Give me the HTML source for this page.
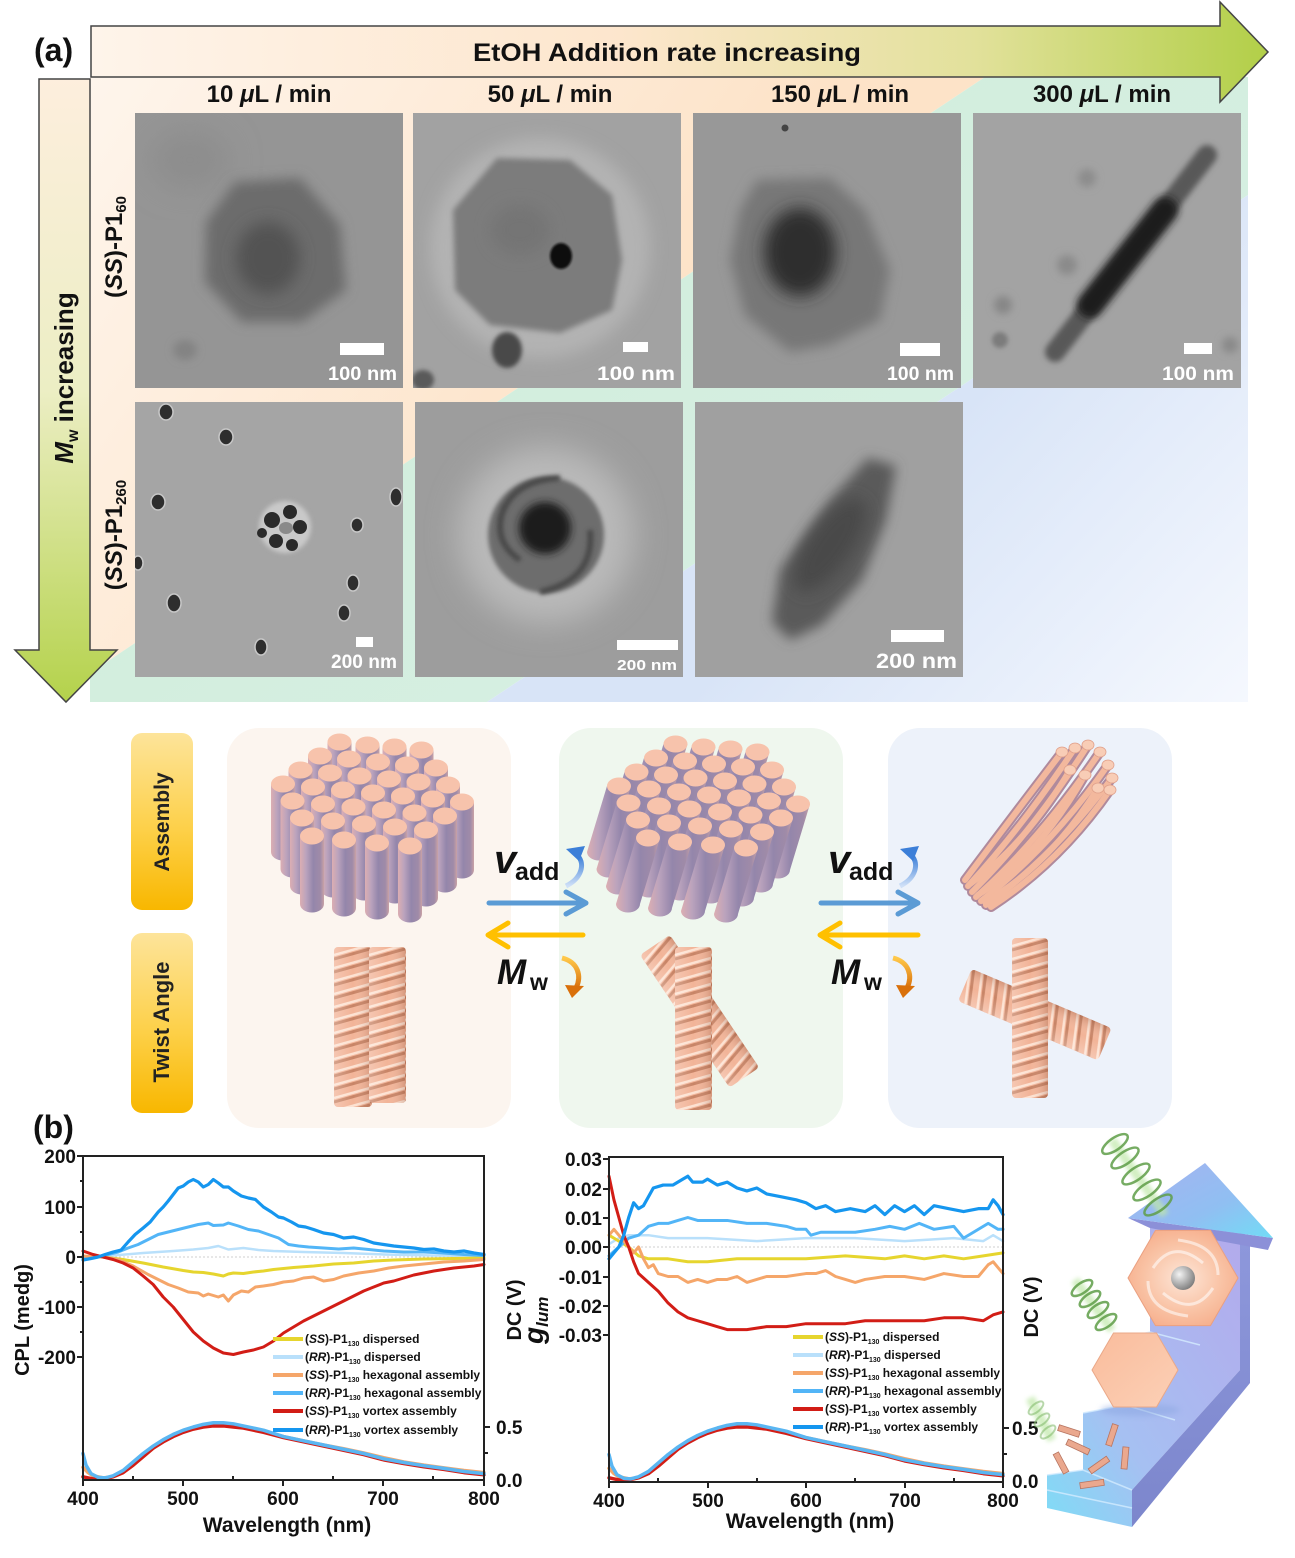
<!DOCTYPE html>
<html><head><meta charset="utf-8">
<style>
html,body{margin:0;padding:0;background:#fff;}
svg{display:block;}
text{font-family:"Liberation Sans",Arial,sans-serif;font-weight:bold;fill:#111;}
</style></head>
<body>
<svg width="1295" height="1558" viewBox="0 0 1295 1558" xmlns="http://www.w3.org/2000/svg">
<defs>
  <linearGradient id="gPeach" gradientUnits="userSpaceOnUse" x1="90" y1="77" x2="600" y2="420">
    <stop offset="0" stop-color="#fef5ec"/><stop offset="1" stop-color="#fde3c8"/>
  </linearGradient>
  <linearGradient id="gGreen" gradientUnits="userSpaceOnUse" x1="700" y1="200" x2="900" y2="500">
    <stop offset="0" stop-color="#d2eedd"/><stop offset="1" stop-color="#d6efe2"/>
  </linearGradient>
  <linearGradient id="gBlue" gradientUnits="userSpaceOnUse" x1="950" y1="420" x2="1248" y2="702">
    <stop offset="0" stop-color="#d8e4f7"/><stop offset="1" stop-color="#f5f8fe"/>
  </linearGradient>
  <linearGradient id="gHArrow" x1="0" y1="0" x2="1" y2="0">
    <stop offset="0" stop-color="#fef4ea"/><stop offset="0.45" stop-color="#fde6cd"/><stop offset="0.75" stop-color="#e2e19b"/><stop offset="1" stop-color="#b2cf48"/>
  </linearGradient>
  <linearGradient id="gVArrow" x1="0" y1="0" x2="0" y2="1">
    <stop offset="0" stop-color="#fdeedd"/><stop offset="0.5" stop-color="#eceec4"/><stop offset="1" stop-color="#b4d24b"/>
  </linearGradient>
  <linearGradient id="gYel" x1="0" y1="0" x2="0" y2="1">
    <stop offset="0" stop-color="#fde49a"/><stop offset="0.55" stop-color="#fdd048"/><stop offset="1" stop-color="#f8b700"/>
  </linearGradient>
  <linearGradient id="gCyl" x1="0" y1="0" x2="1" y2="0">
    <stop offset="0" stop-color="#dcaeb2"/><stop offset="0.25" stop-color="#bba3bd"/><stop offset="0.55" stop-color="#9486ab"/><stop offset="0.85" stop-color="#a08ba8"/><stop offset="1" stop-color="#c9a2a6"/>
  </linearGradient>
  <linearGradient id="gRodShade" x1="0" y1="0" x2="1" y2="0">
    <stop offset="0" stop-color="#ffffff" stop-opacity="0.25"/><stop offset="0.5" stop-color="#ffffff" stop-opacity="0"/><stop offset="1" stop-color="#7a3a20" stop-opacity="0.25"/>
  </linearGradient>
  <linearGradient id="gCurB" x1="0" y1="1" x2="0" y2="0">
    <stop offset="0" stop-color="#cfe0f7"/><stop offset="1" stop-color="#3c7fd8"/>
  </linearGradient>
  <linearGradient id="gCurO" x1="0" y1="0" x2="0" y2="1">
    <stop offset="0" stop-color="#ffc84a"/><stop offset="1" stop-color="#d9700a"/>
  </linearGradient>
  <linearGradient id="gStair" x1="0" y1="1" x2="1" y2="0">
    <stop offset="0" stop-color="#7fdcf6"/><stop offset="0.35" stop-color="#a6c0f2"/><stop offset="1" stop-color="#b3aaec"/>
  </linearGradient>
  <linearGradient id="gStairSide" x1="0" y1="0" x2="0" y2="1">
    <stop offset="0" stop-color="#8e98dc"/><stop offset="1" stop-color="#7c86cc"/>
  </linearGradient>
  <linearGradient id="gArrTop" x1="0" y1="0" x2="1" y2="1">
    <stop offset="0" stop-color="#a6b2f0"/><stop offset="0.6" stop-color="#90bff2"/><stop offset="1" stop-color="#72dcf6"/>
  </linearGradient>
  <radialGradient id="gVortex" cx="0.5" cy="0.5" r="0.6">
    <stop offset="0" stop-color="#fde6d8"/><stop offset="0.6" stop-color="#f9c2a4"/><stop offset="1" stop-color="#f6ab88"/>
  </radialGradient>
  <linearGradient id="gHex2" x1="0" y1="0" x2="1" y2="1">
    <stop offset="0" stop-color="#f9bc9c"/><stop offset="1" stop-color="#fcd0b6"/>
  </linearGradient>
  <radialGradient id="gSphere" cx="0.35" cy="0.35" r="0.7">
    <stop offset="0" stop-color="#f4f4f4"/><stop offset="1" stop-color="#7d7d7d"/>
  </radialGradient>
  <filter id="b1" x="-50%" y="-50%" width="200%" height="200%"><feGaussianBlur stdDeviation="1"/></filter>
  <filter id="b2" x="-50%" y="-50%" width="200%" height="200%"><feGaussianBlur stdDeviation="2"/></filter>
  <filter id="b3" x="-50%" y="-50%" width="200%" height="200%"><feGaussianBlur stdDeviation="3"/></filter>
  <filter id="b4" x="-50%" y="-50%" width="200%" height="200%"><feGaussianBlur stdDeviation="4"/></filter>
  <filter id="b6" x="-50%" y="-50%" width="200%" height="200%"><feGaussianBlur stdDeviation="6"/></filter>
  <filter id="b8" x="-50%" y="-50%" width="200%" height="200%"><feGaussianBlur stdDeviation="8"/></filter>
  <filter id="b15" x="-50%" y="-50%" width="200%" height="200%"><feGaussianBlur stdDeviation="15"/></filter>
  <clipPath id="c1"><rect x="135" y="113" width="268" height="275"/></clipPath>
  <clipPath id="c2"><rect x="413" y="113" width="268" height="275"/></clipPath>
  <clipPath id="c3"><rect x="693" y="113" width="268" height="275"/></clipPath>
  <clipPath id="c4"><rect x="973" y="113" width="268" height="275"/></clipPath>
  <clipPath id="c5"><rect x="135" y="402" width="268" height="275"/></clipPath>
  <clipPath id="c6"><rect x="415" y="402" width="268" height="275"/></clipPath>
  <clipPath id="c7"><rect x="695" y="402" width="268" height="275"/></clipPath>
  <pattern id="tw" width="36" height="13" patternUnits="userSpaceOnUse">
    <rect width="36" height="13" fill="#f2b498"/>
    <path d="M0,12 L36,2 M0,25 L36,15 M0,-1 L36,-11" stroke="#c88466" stroke-width="3"/>
    <path d="M0,8 L36,-2 M0,21 L36,11" stroke="#fde2d2" stroke-width="2.5"/>
  </pattern>
  <g id="cy"><path d="M-12,0 V68 A12,8.5 0 0 0 12,68 V0 Z" fill="url(#gCyl)"/><ellipse rx="12" ry="8.5" fill="#f7c3ac"/></g>
  <g id="cy2"><path d="M-12,0 L-32,66 A12,8.5 0 0 0 -8,66 L12,0 Z" fill="url(#gCyl)"/><ellipse rx="12" ry="8.5" fill="#f7c3ac"/></g>
</defs>

<!-- ===== PANEL (a) background ===== -->
<polygon points="90,77 985,77 90,673" fill="url(#gPeach)"/>
<polygon points="985,77 1248,77 1248,195 487,702 90,702 90,673" fill="url(#gGreen)"/>
<polygon points="1248,195 1248,702 487,702" fill="url(#gBlue)"/>

<!-- horizontal arrow -->
<polygon points="91,26 1220,26 1220,2 1268,52 1220,102 1220,77 91,77" fill="url(#gHArrow)" stroke="#444" stroke-width="1.5"/>
<text x="667" y="61" text-anchor="middle" font-size="25" textLength="388" lengthAdjust="spacingAndGlyphs">EtOH Addition rate increasing</text>
<!-- vertical arrow -->
<polygon points="39,79 90,79 90,650 117,650 66,702 15,650 39,650" fill="url(#gVArrow)" stroke="#444" stroke-width="1.5"/>
<text transform="translate(73,378) rotate(-90)" text-anchor="middle" font-size="26"><tspan font-style="italic">M</tspan><tspan font-size="16" dy="5">w</tspan><tspan dy="-5"> increasing</tspan></text>

<text x="34" y="61" font-size="32">(a)</text>

<!-- column headers -->
<text x="269" y="102" text-anchor="middle" font-size="24">10 <tspan font-style="italic">μ</tspan>L / min</text>
<text x="550" y="102" text-anchor="middle" font-size="24">50 <tspan font-style="italic">μ</tspan>L / min</text>
<text x="840" y="102" text-anchor="middle" font-size="24">150 <tspan font-style="italic">μ</tspan>L / min</text>
<text x="1102" y="102" text-anchor="middle" font-size="24">300 <tspan font-style="italic">μ</tspan>L / min</text>

<!-- row labels -->
<text transform="translate(122,247) rotate(-90)" text-anchor="middle" font-size="24">(<tspan font-style="italic">SS</tspan>)-P1<tspan font-size="15" dy="4">60</tspan></text>
<text transform="translate(122,535) rotate(-90)" text-anchor="middle" font-size="24">(<tspan font-style="italic">SS</tspan>)-P1<tspan font-size="15" dy="4">260</tspan></text>

<!-- ===== TEM images ===== -->
<g clip-path="url(#c1)">
  <rect x="135" y="113" width="268" height="275" fill="#959595"/>
  <ellipse cx="190" cy="160" rx="40" ry="30" fill="#8d8d8d" filter="url(#b15)"/>
  <polygon points="235,182 300,178 340,225 346,290 302,322 242,322 205,282 206,222" fill="#6c6c6c" filter="url(#b6)"/>
  <ellipse cx="268" cy="258" rx="32" ry="36" fill="#525252" filter="url(#b8)"/>
  <ellipse cx="185" cy="350" rx="12" ry="10" fill="#838383" filter="url(#b4)"/>
</g>
<g clip-path="url(#c2)">
  <rect x="413" y="113" width="268" height="275" fill="#a2a2a2"/>
  <ellipse cx="540" cy="248" rx="110" ry="110" fill="#b3b3b3" filter="url(#b8)"/>
  <polygon points="497,158 570,160 612,195 622,260 612,310 560,333 490,325 455,290 453,210" fill="#7b7b7b" filter="url(#b3)"/>
  <ellipse cx="520" cy="230" rx="30" ry="25" fill="#747474" filter="url(#b8)"/>
  <ellipse cx="561" cy="256" rx="11" ry="13" fill="#0e0e0e" filter="url(#b1)"/>
  <ellipse cx="507" cy="350" rx="15" ry="18" fill="#4a4a4a" filter="url(#b2)"/>
  <ellipse cx="423" cy="380" rx="11" ry="10" fill="#5a5a5a" filter="url(#b2)"/>
</g>
<g clip-path="url(#c3)">
  <rect x="693" y="113" width="268" height="275" fill="#989898"/>
  <polygon points="757,180 830,178 865,210 890,270 880,320 830,345 790,352 745,315 730,260 740,210" fill="#777" filter="url(#b6)"/>
  <ellipse cx="800" cy="252" rx="36" ry="44" fill="#2d2d2d" filter="url(#b8)"/>
  <circle cx="785" cy="128" r="3.5" fill="#444"/>
</g>
<g clip-path="url(#c4)">
  <rect x="973" y="113" width="268" height="275" fill="#a3a3a3"/>
  <circle cx="1067" cy="265" r="10" fill="#8a8a8a" filter="url(#b4)"/>
  <circle cx="1003" cy="305" r="9" fill="#868686" filter="url(#b4)"/>
  <circle cx="1087" cy="178" r="9" fill="#8c8c8c" filter="url(#b4)"/>
  <circle cx="1230" cy="345" r="8" fill="#888" filter="url(#b4)"/>
  <circle cx="1000" cy="340" r="8" fill="#7c7c7c" filter="url(#b2)"/>
  <line x1="1055" y1="352" x2="1207" y2="155" stroke="#595959" stroke-width="20" stroke-linecap="round" filter="url(#b3)"/>
  <line x1="1090" y1="305" x2="1165" y2="210" stroke="#1e1e1e" stroke-width="26" stroke-linecap="round" filter="url(#b4)"/>
</g>
<g clip-path="url(#c5)">
  <rect x="135" y="402" width="268" height="275" fill="#a5a5a5"/>
  <g fill="#2e2e2e" stroke="#c8c8c8" stroke-width="1.5">
    <ellipse cx="166" cy="412" rx="7" ry="8"/>
    <ellipse cx="226" cy="437" rx="7" ry="8"/>
    <ellipse cx="158" cy="502" rx="7" ry="8"/>
    <ellipse cx="357" cy="525" rx="6" ry="7"/>
    <ellipse cx="396" cy="497" rx="6" ry="9"/>
    <ellipse cx="353" cy="583" rx="6" ry="8"/>
    <ellipse cx="344" cy="613" rx="6" ry="8"/>
    <ellipse cx="174" cy="603" rx="7" ry="9"/>
    <ellipse cx="261" cy="647" rx="6" ry="8"/>
    <ellipse cx="138" cy="563" rx="5" ry="7"/>
  </g>
  <ellipse cx="285" cy="527" rx="26" ry="26" fill="#c9c9c9" filter="url(#b2)"/>
  <g fill="#2a2a2a">
    <circle cx="272" cy="520" r="8"/><circle cx="290" cy="512" r="7"/><circle cx="300" cy="527" r="7"/>
    <circle cx="276" cy="541" r="7"/><circle cx="292" cy="545" r="6"/><circle cx="262" cy="533" r="5"/>
  </g>
  <ellipse cx="286" cy="528" rx="7" ry="6" fill="#8a8a8a"/>
</g>
<g clip-path="url(#c6)">
  <rect x="415" y="402" width="268" height="275" fill="#9d9d9d"/>
  <circle cx="546" cy="535" r="88" fill="#b9b9b9" filter="url(#b15)"/>
  <circle cx="546" cy="535" r="58" fill="#6d6d6d" filter="url(#b2)"/>
  <path d="M500,520 Q510,480 560,478 M590,530 Q595,580 540,592 M520,560 Q490,540 505,505" stroke="#4a4a4a" stroke-width="6" fill="none" filter="url(#b2)"/>
  <circle cx="545" cy="528" r="26" fill="#1e1e1e" filter="url(#b4)"/>
</g>
<g clip-path="url(#c7)">
  <rect x="695" y="402" width="268" height="275" fill="#a0a0a0"/>
  <polygon points="868,458 896,466 886,520 862,580 822,625 790,640 772,622 780,570 830,500" fill="#5a5a5a" filter="url(#b6)"/>
  <ellipse cx="830" cy="545" rx="22" ry="55" transform="rotate(35 830 545)" fill="#4a4a4a" filter="url(#b8)"/>
</g>

<!-- scale bars -->
<g fill="#fff">
  <rect x="340" y="343" width="44" height="12"/>
  <rect x="623" y="342" width="25" height="10"/>
  <rect x="900" y="343" width="40" height="13"/>
  <rect x="1184" y="343" width="28" height="11"/>
  <rect x="356" y="637" width="17" height="10"/>
  <rect x="617" y="640" width="61" height="10"/>
  <rect x="891" y="630" width="53" height="12"/>
</g>
<g font-size="19" style="font-weight:normal">
  <text x="328" y="380" textLength="69" lengthAdjust="spacingAndGlyphs" style="fill:#fff">100 nm</text>
  <text x="597" y="380" textLength="78" lengthAdjust="spacingAndGlyphs" style="fill:#fff">100 nm</text>
  <text x="887" y="380" textLength="67" lengthAdjust="spacingAndGlyphs" style="fill:#fff">100 nm</text>
  <text x="1162" y="380" textLength="72" lengthAdjust="spacingAndGlyphs" style="fill:#fff">100 nm</text>
  <text x="331" y="668" textLength="66" lengthAdjust="spacingAndGlyphs" style="fill:#fff">200 nm</text>
  <text x="617" y="670" font-size="15" textLength="60" lengthAdjust="spacingAndGlyphs" style="fill:#fff">200 nm</text>
  <text x="876" y="668" font-size="21" textLength="81" lengthAdjust="spacingAndGlyphs" style="fill:#fff">200 nm</text>
</g>

<!-- ===== Schematic ===== -->
<rect x="131" y="733" width="62" height="177" rx="11" fill="url(#gYel)"/>
<rect x="131" y="933" width="62" height="180" rx="11" fill="url(#gYel)"/>
<text transform="translate(169,822) rotate(-90)" text-anchor="middle" font-size="21" style="fill:#222">Assembly</text>
<text transform="translate(169,1022) rotate(-90)" text-anchor="middle" font-size="22" style="fill:#222">Twist Angle</text>

<rect x="227" y="728" width="284" height="400" rx="32" fill="#fcf5ef"/>
<rect x="559" y="728" width="284" height="400" rx="32" fill="#eff7ee"/>
<rect x="888" y="728" width="284" height="400" rx="32" fill="#edf2fa"/>

<!-- bundle 1 -->
<g>
  <use href="#cy" x="339.5" y="742"/><use href="#cy" x="367.5" y="745"/><use href="#cy" x="394.5" y="747"/><use href="#cy" x="421.5" y="750"/>
  <use href="#cy" x="320" y="756"/><use href="#cy" x="349" y="759"/><use href="#cy" x="378" y="762"/><use href="#cy" x="407" y="765"/><use href="#cy" x="436" y="768"/>
  <use href="#cy" x="300.5" y="770"/><use href="#cy" x="330" y="773"/><use href="#cy" x="359.5" y="776"/><use href="#cy" x="389" y="779"/><use href="#cy" x="418.5" y="782"/><use href="#cy" x="448" y="785"/>
  <use href="#cy" x="283" y="784"/><use href="#cy" x="313" y="787"/><use href="#cy" x="343" y="790"/><use href="#cy" x="373" y="793"/><use href="#cy" x="403" y="796"/><use href="#cy" x="433" y="799"/><use href="#cy" x="462" y="802"/>
  <use href="#cy" x="292.5" y="801"/><use href="#cy" x="323" y="804"/><use href="#cy" x="353.5" y="807"/><use href="#cy" x="384" y="810"/><use href="#cy" x="414.5" y="813"/><use href="#cy" x="445" y="816"/>
  <use href="#cy" x="302" y="818"/><use href="#cy" x="333" y="821"/><use href="#cy" x="364" y="824"/><use href="#cy" x="395" y="827"/><use href="#cy" x="426" y="830"/>
  <use href="#cy" x="312" y="836"/><use href="#cy" x="344" y="840"/><use href="#cy" x="377" y="843"/><use href="#cy" x="410" y="846"/>
</g>
<!-- bundle 2 (tilted) -->
<g transform="translate(336,2)">
  <use href="#cy2" x="339.5" y="742"/><use href="#cy2" x="367.5" y="745"/><use href="#cy2" x="394.5" y="747"/><use href="#cy2" x="421.5" y="750"/>
  <use href="#cy2" x="320" y="756"/><use href="#cy2" x="349" y="759"/><use href="#cy2" x="378" y="762"/><use href="#cy2" x="407" y="765"/><use href="#cy2" x="436" y="768"/>
  <use href="#cy2" x="300.5" y="770"/><use href="#cy2" x="330" y="773"/><use href="#cy2" x="359.5" y="776"/><use href="#cy2" x="389" y="779"/><use href="#cy2" x="418.5" y="782"/><use href="#cy2" x="448" y="785"/>
  <use href="#cy2" x="283" y="784"/><use href="#cy2" x="313" y="787"/><use href="#cy2" x="343" y="790"/><use href="#cy2" x="373" y="793"/><use href="#cy2" x="403" y="796"/><use href="#cy2" x="433" y="799"/><use href="#cy2" x="462" y="802"/>
  <use href="#cy2" x="292.5" y="801"/><use href="#cy2" x="323" y="804"/><use href="#cy2" x="353.5" y="807"/><use href="#cy2" x="384" y="810"/><use href="#cy2" x="414.5" y="813"/><use href="#cy2" x="445" y="816"/>
  <use href="#cy2" x="302" y="818"/><use href="#cy2" x="333" y="821"/><use href="#cy2" x="364" y="824"/><use href="#cy2" x="395" y="827"/><use href="#cy2" x="426" y="830"/>
  <use href="#cy2" x="312" y="836"/><use href="#cy2" x="344" y="840"/><use href="#cy2" x="377" y="843"/><use href="#cy2" x="410" y="846"/>
</g>
<!-- bundle 3 (twisted) -->
<g fill="none" stroke-linecap="round">
  <g stroke="#b08a9c" stroke-width="10">
    <path d="M965,880 Q1010,820 1062,752"/><path d="M968,886 Q1020,830 1075,748"/><path d="M972,892 Q1030,835 1088,745"/>
    <path d="M976,897 Q1040,840 1100,752"/><path d="M981,901 Q1050,848 1108,765"/><path d="M986,905 Q1055,855 1112,778"/>
    <path d="M991,907 Q1060,862 1110,790"/><path d="M970,884 Q1025,845 1070,770"/><path d="M978,895 Q1040,855 1085,775"/><path d="M985,902 Q1050,865 1098,788"/>
  </g>
  <g stroke="#f3b89d" stroke-width="6">
    <path d="M965,880 Q1010,820 1062,752"/><path d="M968,886 Q1020,830 1075,748"/><path d="M972,892 Q1030,835 1088,745"/>
    <path d="M976,897 Q1040,840 1100,752"/><path d="M981,901 Q1050,848 1108,765"/><path d="M986,905 Q1055,855 1112,778"/>
    <path d="M991,907 Q1060,862 1110,790"/><path d="M970,884 Q1025,845 1070,770"/><path d="M978,895 Q1040,855 1085,775"/><path d="M985,902 Q1050,865 1098,788"/>
  </g>
</g>
<g fill="#f8cdb6" stroke="#e0a08a" stroke-width="0.8">
  <ellipse cx="1062" cy="752" rx="6" ry="5"/><ellipse cx="1075" cy="748" rx="6" ry="5"/><ellipse cx="1088" cy="745" rx="6" ry="5"/>
  <ellipse cx="1100" cy="752" rx="6" ry="5"/><ellipse cx="1108" cy="765" rx="6" ry="5"/><ellipse cx="1112" cy="778" rx="6" ry="5"/>
  <ellipse cx="1110" cy="790" rx="6" ry="5"/><ellipse cx="1070" cy="770" rx="6" ry="5"/><ellipse cx="1085" cy="775" rx="6" ry="5"/><ellipse cx="1098" cy="788" rx="6" ry="5"/>
</g>

<!-- twisted rods -->
<g transform="translate(334,947)"><rect width="38" height="160" rx="4" fill="url(#tw)"/><rect width="38" height="160" rx="4" fill="url(#gRodShade)"/></g>
<g transform="translate(369,947)"><rect width="37" height="156" rx="4" fill="url(#tw)"/><rect width="37" height="156" rx="4" fill="url(#gRodShade)"/></g>
<g transform="translate(640,955) rotate(-34)"><rect width="36" height="160" rx="4" fill="url(#tw)"/><rect width="36" height="160" rx="4" fill="url(#gRodShade)"/></g>
<g transform="translate(675,947)"><rect width="37" height="163" rx="4" fill="url(#tw)"/><rect width="37" height="163" rx="4" fill="url(#gRodShade)"/></g>
<g transform="translate(958,1001) rotate(-67)"><rect width="35" height="152" rx="4" fill="url(#tw)"/><rect width="35" height="152" rx="4" fill="url(#gRodShade)"/></g>
<g transform="translate(1012,938)"><rect width="36" height="160" rx="4" fill="url(#tw)"/><rect width="36" height="160" rx="4" fill="url(#gRodShade)"/></g>

<!-- process arrows -->
<g stroke-linecap="round" stroke-linejoin="round" fill="none" stroke-width="5">
  <line x1="489" y1="903" x2="583" y2="903" stroke="#5b9bd5"/>
  <polyline points="566,892 586,903 566,914" stroke="#5b9bd5"/>
  <line x1="490" y1="935" x2="583" y2="935" stroke="#ffc000"/>
  <polyline points="508,923 488,935 508,947" stroke="#ffc000"/>
  <line x1="821" y1="903" x2="916" y2="903" stroke="#5b9bd5"/>
  <polyline points="898,892 918,903 898,914" stroke="#5b9bd5"/>
  <line x1="822" y1="935" x2="918" y2="935" stroke="#ffc000"/>
  <polyline points="840,923 820,935 840,947" stroke="#ffc000"/>
</g>
<!-- labels v_add, M_w -->
<text x="494" y="873" font-size="40" font-style="italic">v</text><text x="515" y="880" font-size="25">add</text>
<text x="497" y="984" font-size="35" font-style="italic">M</text><text x="530" y="990" font-size="23">w</text>
<text x="828" y="873" font-size="40" font-style="italic">v</text><text x="849" y="880" font-size="25">add</text>
<text x="831" y="984" font-size="35" font-style="italic">M</text><text x="864" y="990" font-size="23">w</text>
<!-- curved arrows -->
<path d="M566,886 C582,878 585,864 578,856" stroke="url(#gCurB)" stroke-width="5" fill="none"/>
<polygon points="566,849 585,846 579,861" fill="#3c7fd8"/>
<path d="M562,958 C578,962 582,976 576,988" stroke="url(#gCurO)" stroke-width="5" fill="none"/>
<polygon points="565,985 584,986 572,998" fill="#d9700a"/>
<path d="M900,886 C916,878 919,864 912,856" stroke="url(#gCurB)" stroke-width="5" fill="none"/>
<polygon points="900,849 919,846 913,861" fill="#3c7fd8"/>
<path d="M893,958 C909,962 913,976 907,988" stroke="url(#gCurO)" stroke-width="5" fill="none"/>
<polygon points="896,985 915,986 903,998" fill="#d9700a"/>

<!-- ===== (b) charts ===== -->
<text x="33" y="1138" font-size="32">(b)</text>

<!-- Chart 1 -->
<line x1="83" y1="1257" x2="484" y2="1257" stroke="#cfcfcf" stroke-width="1" stroke-dasharray="2,2"/>
<g fill="none" stroke-linejoin="round" stroke-linecap="round">
  <g transform="translate(83,1257) scale(1.0025,-0.5)">
    <polyline vector-effect="non-scaling-stroke" stroke="#b9e0fb" stroke-width="2.5" points="0,0 30,3 60,8 90,12 110,15 125,18 135,22 145,15 160,18 175,14 190,12 220,10 260,8 300,5 350,3 400,2"/>
    <polyline vector-effect="non-scaling-stroke" stroke="#e6d52e" stroke-width="3" points="0,0 20,0 40,-5 60,-12 80,-20 100,-27 110,-30 120,-31 130,-34 140,-38 145,-34 150,-32 160,-33 170,-30 180,-28 190,-25 210,-21 230,-18 250,-14 270,-12 290,-8 310,-6 340,-4 370,-3 400,-2"/>
    <polyline vector-effect="non-scaling-stroke" stroke="#52b5f7" stroke-width="3" points="0,-3 15,0 25,5 35,10 45,18 55,25 65,35 75,45 85,50 95,55 105,60 115,65 125,68 130,63 140,64 145,68 155,62 165,55 175,52 185,45 195,38 205,25 215,22 225,20 240,18 255,16 270,18 285,15 300,12 320,10 340,10 360,8 380,5 400,3"/>
    <polyline vector-effect="non-scaling-stroke" stroke="#f5a66a" stroke-width="3" points="0,2 20,0 35,-5 50,-18 65,-35 75,-45 85,-55 95,-62 105,-70 115,-72 120,-78 125,-74 135,-80 140,-76 145,-88 150,-76 158,-68 165,-70 172,-60 180,-58 190,-55 200,-50 210,-48 220,-42 230,-40 240,-48 250,-45 260,-38 275,-32 290,-28 305,-22 320,-18 340,-14 360,-10 380,-8 400,-5"/>
    <polyline vector-effect="non-scaling-stroke" stroke="#d21d16" stroke-width="3" points="0,12 10,5 20,0 30,-5 40,-12 50,-22 60,-38 70,-55 80,-80 90,-100 100,-125 110,-150 120,-168 130,-182 140,-192 150,-195 160,-190 170,-186 180,-180 190,-168 200,-152 210,-140 220,-128 230,-118 240,-108 250,-98 260,-88 270,-78 280,-68 290,-60 300,-52 310,-48 320,-42 330,-36 340,-32 350,-28 360,-25 370,-22 380,-20 390,-18 400,-15"/>
    <polyline vector-effect="non-scaling-stroke" stroke="#1596ef" stroke-width="3.2" points="0,-6 8,-3 15,0 22,5 30,10 38,14 45,30 52,45 60,58 67,70 75,90 80,100 85,112 90,125 95,138 100,142 105,150 110,155 115,150 120,140 125,145 130,155 135,148 140,140 145,140 150,132 158,122 165,118 172,115 180,100 188,90 195,80 200,78 208,70 215,62 222,60 230,55 240,48 250,45 260,38 270,40 280,35 290,28 300,25 310,22 320,20 330,18 340,15 350,16 360,12 370,10 380,12 390,8 400,5"/>
  </g>
  <g transform="translate(83,1480) scale(1.0025,-106)">
    <polyline vector-effect="non-scaling-stroke" stroke="#f5a66a" stroke-width="3.5" points="0,0.12 5,0.07 10,0.04 20,0.02 30,0.03 40,0.07 50,0.14 60,0.22 70,0.3 80,0.37 90,0.42 100,0.46 110,0.49 120,0.51 130,0.52 140,0.52 150,0.51 160,0.5 180,0.46 200,0.41 220,0.37 240,0.33 260,0.295 280,0.255 300,0.21 320,0.17 340,0.14 360,0.115 380,0.09 400,0.07"/>
    <polyline vector-effect="non-scaling-stroke" stroke="#d21d16" stroke-width="3.5" points="0,0.03 10,0.01 20,0.01 30,0.03 40,0.07 50,0.14 60,0.22 70,0.3 80,0.36 90,0.41 100,0.45 110,0.48 120,0.5 130,0.51 140,0.51 150,0.5 160,0.49 180,0.45 200,0.4 220,0.36 240,0.32 260,0.28 280,0.24 300,0.19 320,0.155 340,0.125 360,0.1 380,0.07 400,0.05"/>
    <polyline vector-effect="non-scaling-stroke" stroke="#5ab6f2" stroke-width="3.5" points="0,0.25 3,0.14 8,0.06 15,0.025 22,0.02 30,0.04 40,0.09 50,0.17 60,0.25 70,0.32 80,0.38 90,0.43 100,0.47 110,0.5 120,0.525 130,0.54 140,0.54 150,0.53 160,0.51 180,0.47 200,0.41 220,0.37 240,0.33 260,0.29 280,0.25 300,0.2 320,0.165 340,0.135 360,0.11 380,0.08 400,0.06"/>
  </g>
</g>
<rect x="83" y="1156" width="401" height="324" fill="none" stroke="#222" stroke-width="2"/>
<g stroke="#222" stroke-width="2">
  <line x1="77" y1="1156" x2="83" y2="1156"/><line x1="77" y1="1207" x2="83" y2="1207"/><line x1="77" y1="1257" x2="83" y2="1257"/><line x1="77" y1="1307" x2="83" y2="1307"/><line x1="77" y1="1357" x2="83" y2="1357"/>
  <line x1="83" y1="1480" x2="83" y2="1486"/><line x1="183" y1="1480" x2="183" y2="1486"/><line x1="283" y1="1480" x2="283" y2="1486"/><line x1="383" y1="1480" x2="383" y2="1486"/><line x1="484" y1="1480" x2="484" y2="1486"/>
  <line x1="133" y1="1480" x2="133" y2="1476"/><line x1="233" y1="1480" x2="233" y2="1476"/><line x1="333" y1="1480" x2="333" y2="1476"/><line x1="433" y1="1480" x2="433" y2="1476"/>
  <line x1="484" y1="1427" x2="490" y2="1427"/><line x1="484" y1="1453" x2="488" y2="1453"/>
  <line x1="80" y1="1181" x2="83" y2="1181"/><line x1="80" y1="1232" x2="83" y2="1232"/><line x1="80" y1="1282" x2="83" y2="1282"/><line x1="80" y1="1332" x2="83" y2="1332"/>
</g>
<g font-size="19" text-anchor="end">
  <text x="76" y="1163">200</text><text x="76" y="1214">100</text><text x="76" y="1264">0</text><text x="76" y="1314">-100</text><text x="76" y="1364">-200</text>
</g>
<g font-size="19" text-anchor="middle">
  <text x="83" y="1505">400</text><text x="183" y="1505">500</text><text x="283" y="1505">600</text><text x="383" y="1505">700</text><text x="484" y="1505">800</text>
</g>
<g font-size="19"><text x="496" y="1434">0.5</text><text x="496" y="1487">0.0</text></g>
<text x="287" y="1532" text-anchor="middle" font-size="21">Wavelength (nm)</text>
<text transform="translate(29,1320) rotate(-90)" text-anchor="middle" font-size="20">CPL (medg)</text>
<text transform="translate(521,1310) rotate(-90)" text-anchor="middle" font-size="20">DC (V)</text>

<!-- legend 1 -->
<g stroke-width="4">
  <line x1="273" y1="1339" x2="303" y2="1339" stroke="#e6d52e"/>
  <line x1="273" y1="1357" x2="303" y2="1357" stroke="#b9e0fb"/>
  <line x1="273" y1="1375" x2="303" y2="1375" stroke="#f5a66a"/>
  <line x1="273" y1="1393" x2="303" y2="1393" stroke="#52b5f7"/>
  <line x1="273" y1="1411" x2="303" y2="1411" stroke="#d21d16"/>
  <line x1="273" y1="1430" x2="303" y2="1430" stroke="#1596ef"/>
</g>
<g font-size="12">
  <text x="305" y="1343">(<tspan font-style="italic">SS</tspan>)-P1<tspan font-size="7" dy="3">130</tspan><tspan dy="-3"> dispersed</tspan></text>
  <text x="305" y="1361">(<tspan font-style="italic">RR</tspan>)-P1<tspan font-size="7" dy="3">130</tspan><tspan dy="-3"> dispersed</tspan></text>
  <text x="305" y="1379">(<tspan font-style="italic">SS</tspan>)-P1<tspan font-size="7" dy="3">130</tspan><tspan dy="-3"> hexagonal assembly</tspan></text>
  <text x="305" y="1397">(<tspan font-style="italic">RR</tspan>)-P1<tspan font-size="7" dy="3">130</tspan><tspan dy="-3"> hexagonal assembly</tspan></text>
  <text x="305" y="1415">(<tspan font-style="italic">SS</tspan>)-P1<tspan font-size="7" dy="3">130</tspan><tspan dy="-3"> vortex assembly</tspan></text>
  <text x="305" y="1434">(<tspan font-style="italic">RR</tspan>)-P1<tspan font-size="7" dy="3">130</tspan><tspan dy="-3"> vortex assembly</tspan></text>
</g>

<!-- Chart 2 -->
<line x1="609" y1="1247" x2="1003" y2="1247" stroke="#cfcfcf" stroke-width="1" stroke-dasharray="2,2"/>
<g fill="none" stroke-linejoin="round" stroke-linecap="round">
  <g transform="translate(609,1247) scale(0.985,-2950)">
    <polyline vector-effect="non-scaling-stroke" stroke="#b9e0fb" stroke-width="2.5" points="0,0.001 10,0.003 20,0.004 30,0.004 40,0.004 60,0.003 100,0.003 150,0.002 200,0.003 250,0.003 300,0.002 350,0.003 380,0.002 390,0.004 400,0.002"/>
    <polyline vector-effect="non-scaling-stroke" stroke="#e6d52e" stroke-width="3" points="0,0.004 10,0.002 20,0 30,-0.003 40,-0.004 60,-0.004 80,-0.005 100,-0.005 130,-0.004 160,-0.004 200,-0.004 240,-0.003 280,-0.004 300,-0.003 320,-0.004 340,-0.003 360,-0.004 380,-0.003 400,-0.002"/>
    <polyline vector-effect="non-scaling-stroke" stroke="#52b5f7" stroke-width="3" points="0,-0.003 10,0 20,0.003 30,0.004 40,0.007 50,0.008 60,0.008 70,0.009 80,0.01 90,0.009 100,0.009 120,0.009 140,0.008 160,0.008 180,0.007 190,0.006 200,0.006 205,0.004 215,0.005 230,0.005 250,0.005 270,0.006 285,0.007 300,0.006 315,0.008 330,0.006 350,0.007 360,0.003 370,0.005 385,0.008 395,0.006 400,0.006"/>
    <polyline vector-effect="non-scaling-stroke" stroke="#f5a66a" stroke-width="3" points="0,0.004 5,0.006 10,0.004 15,0.002 20,0 25,-0.002 30,0 35,-0.004 40,-0.007 45,-0.006 50,-0.009 60,-0.01 70,-0.01 80,-0.012 90,-0.011 100,-0.012 110,-0.011 120,-0.011 130,-0.01 140,-0.012 150,-0.011 160,-0.01 180,-0.01 200,-0.009 210,-0.009 220,-0.008 230,-0.01 240,-0.011 250,-0.012 260,-0.011 280,-0.01 300,-0.01 320,-0.011 340,-0.009 360,-0.01 375,-0.01 385,-0.006 390,-0.005 395,-0.007 400,-0.009"/>
    <polyline vector-effect="non-scaling-stroke" stroke="#d21d16" stroke-width="3" points="0,0.024 5,0.016 10,0.01 15,0.004 20,0 25,-0.005 30,-0.009 40,-0.012 50,-0.015 60,-0.019 70,-0.022 80,-0.024 90,-0.025 100,-0.026 110,-0.027 120,-0.028 140,-0.028 160,-0.027 180,-0.027 200,-0.026 220,-0.026 240,-0.026 260,-0.025 280,-0.025 300,-0.025 320,-0.025 340,-0.024 360,-0.024 380,-0.025 390,-0.023 400,-0.022"/>
    <polyline vector-effect="non-scaling-stroke" stroke="#1596ef" stroke-width="3.2" points="0,-0.004 5,-0.002 10,0 15,0.004 20,0.01 25,0.015 30,0.013 35,0.014 40,0.017 45,0.02 55,0.021 65,0.021 75,0.023 80,0.024 85,0.022 95,0.022 100,0.023 110,0.021 120,0.022 130,0.02 140,0.019 150,0.02 160,0.018 175,0.017 190,0.016 200,0.015 210,0.013 220,0.014 230,0.012 245,0.013 260,0.012 270,0.014 280,0.011 290,0.014 300,0.012 310,0.014 320,0.011 330,0.014 345,0.013 360,0.012 375,0.013 385,0.013 390,0.016 395,0.014 400,0.011"/>
  </g>
  <g transform="translate(609,1481) scale(0.985,-106)">
    <polyline vector-effect="non-scaling-stroke" stroke="#f5a66a" stroke-width="3.5" points="0,0.12 5,0.07 10,0.04 20,0.02 30,0.03 40,0.07 50,0.14 60,0.22 70,0.3 80,0.37 90,0.42 100,0.46 110,0.49 120,0.51 130,0.52 140,0.52 150,0.51 160,0.5 180,0.46 200,0.41 220,0.37 240,0.33 260,0.295 280,0.255 300,0.21 320,0.17 340,0.14 360,0.115 380,0.09 400,0.07"/>
    <polyline vector-effect="non-scaling-stroke" stroke="#d21d16" stroke-width="3.5" points="0,0.03 10,0.01 20,0.01 30,0.03 40,0.07 50,0.14 60,0.22 70,0.3 80,0.36 90,0.41 100,0.45 110,0.48 120,0.5 130,0.51 140,0.51 150,0.5 160,0.49 180,0.45 200,0.4 220,0.36 240,0.32 260,0.28 280,0.24 300,0.19 320,0.155 340,0.125 360,0.1 380,0.07 400,0.05"/>
    <polyline vector-effect="non-scaling-stroke" stroke="#5ab6f2" stroke-width="3.5" points="0,0.25 3,0.14 8,0.06 15,0.025 22,0.02 30,0.04 40,0.09 50,0.17 60,0.25 70,0.32 80,0.38 90,0.43 100,0.47 110,0.5 120,0.525 130,0.54 140,0.54 150,0.53 160,0.51 180,0.47 200,0.41 220,0.37 240,0.33 260,0.29 280,0.25 300,0.2 320,0.165 340,0.135 360,0.11 380,0.08 400,0.06"/>
  </g>
</g>
<rect x="609" y="1157" width="394" height="325" fill="none" stroke="#222" stroke-width="2"/>
<g stroke="#222" stroke-width="2">
  <line x1="603" y1="1159" x2="609" y2="1159"/><line x1="603" y1="1189" x2="609" y2="1189"/><line x1="603" y1="1218" x2="609" y2="1218"/><line x1="603" y1="1247" x2="609" y2="1247"/><line x1="603" y1="1277" x2="609" y2="1277"/><line x1="603" y1="1306" x2="609" y2="1306"/><line x1="603" y1="1335" x2="609" y2="1335"/>
  <line x1="609" y1="1482" x2="609" y2="1488"/><line x1="708" y1="1482" x2="708" y2="1488"/><line x1="806" y1="1482" x2="806" y2="1488"/><line x1="905" y1="1482" x2="905" y2="1488"/><line x1="1003" y1="1482" x2="1003" y2="1488"/>
  <line x1="658" y1="1482" x2="658" y2="1478"/><line x1="757" y1="1482" x2="757" y2="1478"/><line x1="855" y1="1482" x2="855" y2="1478"/><line x1="954" y1="1482" x2="954" y2="1478"/>
  <line x1="1003" y1="1428" x2="1009" y2="1428"/><line x1="1003" y1="1454" x2="1007" y2="1454"/>
</g>
<g font-size="19" text-anchor="end">
  <text x="602" y="1166">0.03</text><text x="602" y="1196">0.02</text><text x="602" y="1225">0.01</text><text x="602" y="1254">0.00</text><text x="602" y="1284">-0.01</text><text x="602" y="1313">-0.02</text><text x="602" y="1342">-0.03</text>
</g>
<g font-size="19" text-anchor="middle">
  <text x="609" y="1507">400</text><text x="708" y="1507">500</text><text x="806" y="1507">600</text><text x="905" y="1507">700</text><text x="1003" y="1507">800</text>
</g>
<g font-size="19"><text x="1012" y="1435">0.5</text><text x="1012" y="1488">0.0</text></g>
<text x="810" y="1528" text-anchor="middle" font-size="21">Wavelength (nm)</text>
<text transform="translate(543,1344) rotate(-90)" font-size="28" font-style="italic">g<tspan font-size="17" dy="5">lum</tspan></text>
<text transform="translate(1038,1307) rotate(-90)" text-anchor="middle" font-size="20">DC (V)</text>

<!-- legend 2 -->
<g stroke-width="4">
  <line x1="793" y1="1337" x2="823" y2="1337" stroke="#e6d52e"/>
  <line x1="793" y1="1355" x2="823" y2="1355" stroke="#b9e0fb"/>
  <line x1="793" y1="1373" x2="823" y2="1373" stroke="#f5a66a"/>
  <line x1="793" y1="1391" x2="823" y2="1391" stroke="#52b5f7"/>
  <line x1="793" y1="1409" x2="823" y2="1409" stroke="#d21d16"/>
  <line x1="793" y1="1427" x2="823" y2="1427" stroke="#1596ef"/>
</g>
<g font-size="12">
  <text x="825" y="1341">(<tspan font-style="italic">SS</tspan>)-P1<tspan font-size="7" dy="3">130</tspan><tspan dy="-3"> dispersed</tspan></text>
  <text x="825" y="1359">(<tspan font-style="italic">RR</tspan>)-P1<tspan font-size="7" dy="3">130</tspan><tspan dy="-3"> dispersed</tspan></text>
  <text x="825" y="1377">(<tspan font-style="italic">SS</tspan>)-P1<tspan font-size="7" dy="3">130</tspan><tspan dy="-3"> hexagonal assembly</tspan></text>
  <text x="825" y="1395">(<tspan font-style="italic">RR</tspan>)-P1<tspan font-size="7" dy="3">130</tspan><tspan dy="-3"> hexagonal assembly</tspan></text>
  <text x="825" y="1413">(<tspan font-style="italic">SS</tspan>)-P1<tspan font-size="7" dy="3">130</tspan><tspan dy="-3"> vortex assembly</tspan></text>
  <text x="825" y="1431">(<tspan font-style="italic">RR</tspan>)-P1<tspan font-size="7" dy="3">130</tspan><tspan dy="-3"> vortex assembly</tspan></text>
</g>

<!-- ===== Stair graphic ===== -->
<polygon points="1047,1508 1047,1475 1083,1470 1083,1413 1125,1405 1125,1338 1150,1332 1150,1228 1240,1228 1240,1370 1132,1490 1132,1527" fill="url(#gStair)"/>
<polygon points="1240,1228 1250,1240 1250,1383 1132,1527 1132,1490 1240,1370" fill="url(#gStairSide)"/>
<g stroke="#d4ecff" stroke-width="1.5" fill="none" opacity="0.8">
  <polyline points="1047,1475 1083,1470 1132,1490"/>
  <polyline points="1083,1413 1125,1405 1175,1420"/>
  <polyline points="1125,1338 1150,1332 1200,1345"/>
  <polyline points="1047,1490 1132,1508"/>
</g>
<polygon points="1128,1218 1273,1238 1268,1250 1150,1228" fill="#8c90d8"/>
<polygon points="1205,1163 1128,1218 1273,1238" fill="url(#gArrTop)"/>
<!-- vortex hexagon -->
<polygon points="1238,1278 1210.5,1325.6 1155.5,1325.6 1128,1278 1155.5,1230.4 1210.5,1230.4" fill="url(#gVortex)" stroke="#eaa080" stroke-width="1"/>
<g fill="none" stroke="#ffffff" stroke-opacity="0.55" stroke-width="3">
  <path d="M1183,1278 m-30,-10 q20,-30 50,-5"/><path d="M1183,1278 m30,10 q-20,30 -50,5"/>
  <path d="M1183,1278 m-5,-38 q40,5 40,35"/><path d="M1183,1278 m5,38 q-40,-5 -40,-35"/>
</g>
<circle cx="1183" cy="1278" r="12" fill="url(#gSphere)"/>
<!-- plain hexagon -->
<ellipse cx="1140" cy="1410" rx="40" ry="6" fill="#8aa6e0" opacity="0.5" filter="url(#b3)"/>
<polygon points="1178,1370 1156.5,1407 1113.5,1407 1092,1370 1113.5,1333 1156.5,1333" fill="url(#gHex2)" stroke="#eaa888" stroke-width="1"/>
<!-- small rods -->
<g fill="#eaa88e" stroke="#b77460" stroke-width="0.8">
  <rect x="1058" y="1428" width="22" height="6" transform="rotate(18 1069 1431)"/>
  <rect x="1066" y="1444" width="24" height="6" transform="rotate(25 1078 1447)"/>
  <rect x="1050" y="1460" width="22" height="6" transform="rotate(62 1061 1463)"/>
  <rect x="1088" y="1462" width="22" height="6" transform="rotate(-35 1099 1465)"/>
  <rect x="1080" y="1481" width="24" height="6" transform="rotate(-8 1092 1484)"/>
  <rect x="1101" y="1432" width="22" height="6" transform="rotate(-72 1112 1435)"/>
  <rect x="1114" y="1455" width="22" height="6" transform="rotate(-85 1125 1458)"/>
</g>
<!-- green spirals -->
<g fill="none">
  <g stroke="#bfe8a8" stroke-width="9" opacity="0.7" filter="url(#b2)">
    <line x1="1165" y1="1215" x2="1112" y2="1140"/>
    <line x1="1112" y1="1330" x2="1075" y2="1280"/>
    <line x1="1052" y1="1440" x2="1030" y2="1398"/>
  </g>
  <g stroke="#5f9e48" stroke-width="2.5" opacity="0.85">
    <ellipse cx="1158" cy="1205" rx="16" ry="6" transform="rotate(-35 1158 1205)"/>
    <ellipse cx="1147" cy="1190" rx="16" ry="6" transform="rotate(-35 1147 1190)"/>
    <ellipse cx="1136" cy="1174" rx="16" ry="6" transform="rotate(-35 1136 1174)"/>
    <ellipse cx="1125" cy="1158" rx="16" ry="6" transform="rotate(-35 1125 1158)"/>
    <ellipse cx="1115" cy="1144" rx="15" ry="6" transform="rotate(-35 1115 1144)"/>
    <ellipse cx="1106" cy="1322" rx="12" ry="5" transform="rotate(-35 1106 1322)"/>
    <ellipse cx="1098" cy="1310" rx="12" ry="5" transform="rotate(-35 1098 1310)"/>
    <ellipse cx="1090" cy="1299" rx="12" ry="5" transform="rotate(-35 1090 1299)"/>
    <ellipse cx="1082" cy="1288" rx="12" ry="5" transform="rotate(-35 1082 1288)"/>
  </g>
  <g stroke="#7fb868" stroke-width="2" opacity="0.55">
    <ellipse cx="1048" cy="1432" rx="9" ry="4" transform="rotate(-40 1048 1432)"/>
    <ellipse cx="1042" cy="1420" rx="9" ry="4" transform="rotate(-40 1042 1420)"/>
    <ellipse cx="1036" cy="1408" rx="9" ry="4" transform="rotate(-40 1036 1408)"/>
  </g>
</g>
</svg>
</body>
</html>
